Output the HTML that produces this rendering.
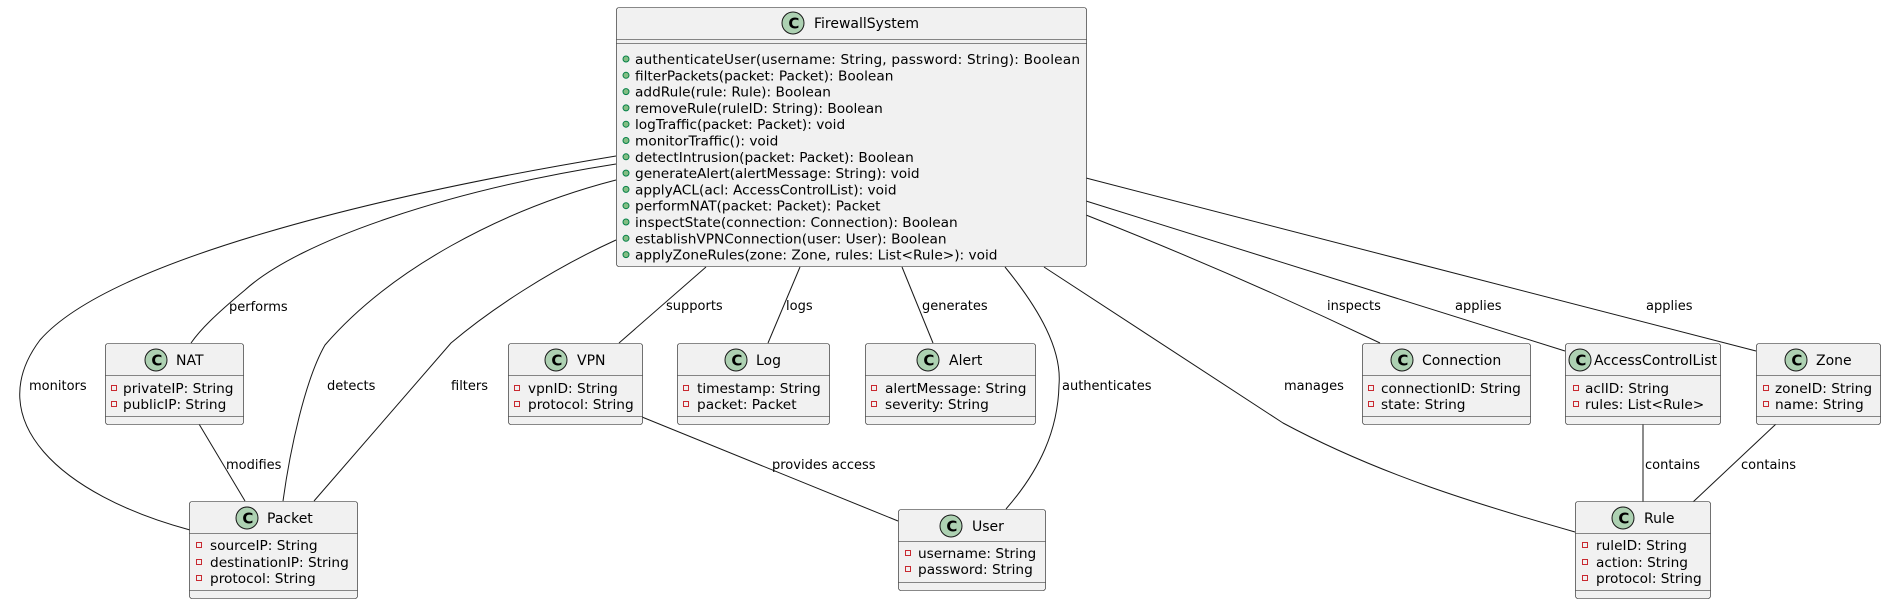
<!DOCTYPE html>
<html><head><meta charset="utf-8"><style>
html,body{margin:0;padding:0;background:#fff;width:1886px;height:604px;overflow:hidden}
svg text{font-family:"DejaVu Sans","Liberation Sans",sans-serif;fill:#000}
.n{font-size:14px}.a{font-size:13.7px}.l{font-size:13px}
</style></head><body>
<svg width="1886" height="604" viewBox="0 0 1886 604" xmlns="http://www.w3.org/2000/svg">
<defs>
<g id="ic"><circle r="11" fill="#ADD1B2" stroke="#181818" stroke-width="1"/><text x="-4.6" y="5.5" style="font-size:15px;font-weight:bold">C</text></g>
</defs>
<g fill="none" stroke="#181818" stroke-width="1">
<path d="M616,156 C380,195 110,260 40,340 C-20,420 60,495 190,530"/>
<path d="M616,164 C450,190 300,240 245,290 C215,315 200,330 191,343"/>
<path d="M616,180 C500,210 390,270 325,345 C305,380 290,450 283,501"/>
<path d="M616,240 C550,270 490,310 451,343 L314,501"/>
<path d="M199,424 L245,501"/>
<path d="M706,267 L619,343"/>
<path d="M800,267 L768,343"/>
<path d="M902,267 L933,343"/>
<path d="M1005,267 C1040,310 1062,350 1059,385 C1058,430 1040,470 1006,509"/>
<path d="M1044,267 L1283,423 C1380,475 1480,505 1575,532"/>
<path d="M1086,215 C1200,260 1290,300 1380,343"/>
<path d="M1086,201 L1565,351"/>
<path d="M1086,178 L1756,351"/>
<path d="M642,417 L898,521"/>
<path d="M1643,424 L1643,502"/>
<path d="M1776,424 L1693,502"/>
</g>
<g class="l">
<text x="29" y="390">monitors</text>
<text x="229" y="311">performs</text>
<text x="327" y="390">detects</text>
<text x="451" y="390">filters</text>
<text x="226" y="469">modifies</text>
<text x="666" y="310">supports</text>
<text x="786" y="310">logs</text>
<text x="922" y="310">generates</text>
<text x="1062" y="390">authenticates</text>
<text x="1284" y="390">manages</text>
<text x="1327" y="310">inspects</text>
<text x="1455" y="310">applies</text>
<text x="1646" y="310">applies</text>
<text x="772" y="469">provides access</text>
<text x="1645" y="469">contains</text>
<text x="1741" y="469">contains</text>
</g>
<g>
<rect x="616.5" y="7.5" width="470" height="259" rx="2.5" fill="#F1F1F1" stroke="#181818" stroke-width="0.6"/>
<line x1="616.5" y1="39.5" x2="1086.5" y2="39.5" stroke="#181818" stroke-width="0.6"/>
<line x1="616.5" y1="43.5" x2="1086.5" y2="43.5" stroke="#181818" stroke-width="0.6"/>
<use href="#ic" x="793" y="23"/>
<text class="n" x="814" y="28">FirewallSystem</text>
<g fill="#84BE84" stroke="#038048" stroke-width="1">
<circle cx="626" cy="59" r="3"/><circle cx="626" cy="75.3" r="3"/><circle cx="626" cy="91.6" r="3"/><circle cx="626" cy="107.9" r="3"/><circle cx="626" cy="124.2" r="3"/><circle cx="626" cy="140.5" r="3"/><circle cx="626" cy="156.8" r="3"/><circle cx="626" cy="173.1" r="3"/><circle cx="626" cy="189.4" r="3"/><circle cx="626" cy="205.7" r="3"/><circle cx="626" cy="222" r="3"/><circle cx="626" cy="238.3" r="3"/><circle cx="626" cy="254.6" r="3"/>
</g>
<g class="a">
<text x="635" y="64" textLength="445">authenticateUser(username: String, password: String): Boolean</text>
<text x="635" y="80.3">filterPackets(packet: Packet): Boolean</text>
<text x="635" y="96.6">addRule(rule: Rule): Boolean</text>
<text x="635" y="112.9">removeRule(ruleID: String): Boolean</text>
<text x="635" y="129.2">logTraffic(packet: Packet): void</text>
<text x="635" y="145.5">monitorTraffic(): void</text>
<text x="635" y="161.8">detectIntrusion(packet: Packet): Boolean</text>
<text x="635" y="178.1">generateAlert(alertMessage: String): void</text>
<text x="635" y="194.4">applyACL(acl: AccessControlList): void</text>
<text x="635" y="210.7">performNAT(packet: Packet): Packet</text>
<text x="635" y="227">inspectState(connection: Connection): Boolean</text>
<text x="635" y="243.3">establishVPNConnection(user: User): Boolean</text>
<text x="635" y="259.6">applyZoneRules(zone: Zone, rules: List&lt;Rule&gt;): void</text>
</g>
</g>
<g stroke="#181818" stroke-width="0.6" fill="#F1F1F1">
<rect x="105.5" y="343.5" width="138" height="81" rx="2.5"/>
<rect x="508.5" y="343.5" width="134" height="81" rx="2.5"/>
<rect x="677.5" y="343.5" width="152" height="81" rx="2.5"/>
<rect x="865.5" y="343.5" width="170" height="81" rx="2.5"/>
<rect x="1362.5" y="343.5" width="168" height="81" rx="2.5"/>
<rect x="1565.5" y="343.5" width="155" height="81" rx="2.5"/>
<rect x="1756.5" y="343.5" width="124" height="81" rx="2.5"/>
<rect x="189.5" y="501.5" width="168" height="97" rx="2.5"/>
<rect x="1575.5" y="501.5" width="135" height="97" rx="2.5"/>
<rect x="898.5" y="509.5" width="147" height="81" rx="2.5"/>
</g>
<g stroke="#181818" stroke-width="0.6">
<path d="M105.5,375.5h138M105.5,416.5h138M508.5,375.5h134M508.5,416.5h134M677.5,375.5h152M677.5,416.5h152M865.5,375.5h170M865.5,416.5h170M1362.5,375.5h168M1362.5,416.5h168M1565.5,375.5h155M1565.5,416.5h155M1756.5,375.5h124M1756.5,416.5h124M189.5,533.5h168M189.5,590.5h168M1575.5,533.5h135M1575.5,590.5h135M898.5,541.5h147M898.5,582.5h147"/>
</g>
<use href="#ic" x="156" y="360"/><text class="n" x="176" y="365">NAT</text>
<use href="#ic" x="556" y="360"/><text class="n" x="577" y="365">VPN</text>
<use href="#ic" x="736" y="360"/><text class="n" x="756" y="365">Log</text>
<use href="#ic" x="928" y="360"/><text class="n" x="949" y="365">Alert</text>
<use href="#ic" x="1402" y="360"/><text class="n" x="1422" y="365">Connection</text>
<use href="#ic" x="1580" y="360"/><text class="n" x="1594" y="365">AccessControlList</text>
<use href="#ic" x="1796" y="360"/><text class="n" x="1816" y="365">Zone</text>
<use href="#ic" x="247" y="518"/><text class="n" x="267" y="523">Packet</text>
<use href="#ic" x="1623" y="518"/><text class="n" x="1644" y="523">Rule</text>
<use href="#ic" x="951" y="526"/><text class="n" x="972" y="531">User</text>
<g fill="none" stroke="#C82930" stroke-width="1">
<rect x="111.5" y="385.5" width="5" height="5"/><rect x="111.5" y="401.5" width="5" height="5"/>
<rect x="514.5" y="385.5" width="5" height="5"/><rect x="514.5" y="401.5" width="5" height="5"/>
<rect x="683.5" y="385.5" width="5" height="5"/><rect x="683.5" y="401.5" width="5" height="5"/>
<rect x="871.5" y="385.5" width="5" height="5"/><rect x="871.5" y="401.5" width="5" height="5"/>
<rect x="1368.5" y="385.5" width="5" height="5"/><rect x="1368.5" y="401.5" width="5" height="5"/>
<rect x="1573.5" y="385.5" width="5" height="5"/><rect x="1573.5" y="401.5" width="5" height="5"/>
<rect x="1763.5" y="385.5" width="5" height="5"/><rect x="1763.5" y="401.5" width="5" height="5"/>
<rect x="196.5" y="542.5" width="5" height="5"/><rect x="196.5" y="559.5" width="5" height="5"/><rect x="196.5" y="575.5" width="5" height="5"/>
<rect x="1582.5" y="542.5" width="5" height="5"/><rect x="1582.5" y="559.5" width="5" height="5"/><rect x="1582.5" y="575.5" width="5" height="5"/>
<rect x="905.5" y="550.5" width="5" height="5"/><rect x="905.5" y="566.5" width="5" height="5"/>
</g>
<g class="a">
<text x="123" y="393">privateIP: String</text><text x="123" y="409">publicIP: String</text>
<text x="528" y="393">vpnID: String</text><text x="528" y="409">protocol: String</text>
<text x="697" y="393">timestamp: String</text><text x="697" y="409">packet: Packet</text>
<text x="885" y="393">alertMessage: String</text><text x="885" y="409">severity: String</text>
<text x="1381" y="393">connectionID: String</text><text x="1381" y="409">state: String</text>
<text x="1585" y="393">aclID: String</text><text x="1585" y="409">rules: List&lt;Rule&gt;</text>
<text x="1775" y="393">zoneID: String</text><text x="1775" y="409">name: String</text>
<text x="210" y="550">sourceIP: String</text><text x="210" y="567">destinationIP: String</text><text x="210" y="583">protocol: String</text>
<text x="1596" y="550">ruleID: String</text><text x="1596" y="567">action: String</text><text x="1596" y="583">protocol: String</text>
<text x="918" y="558">username: String</text><text x="918" y="574">password: String</text>
</g>
</svg>
</body></html>
